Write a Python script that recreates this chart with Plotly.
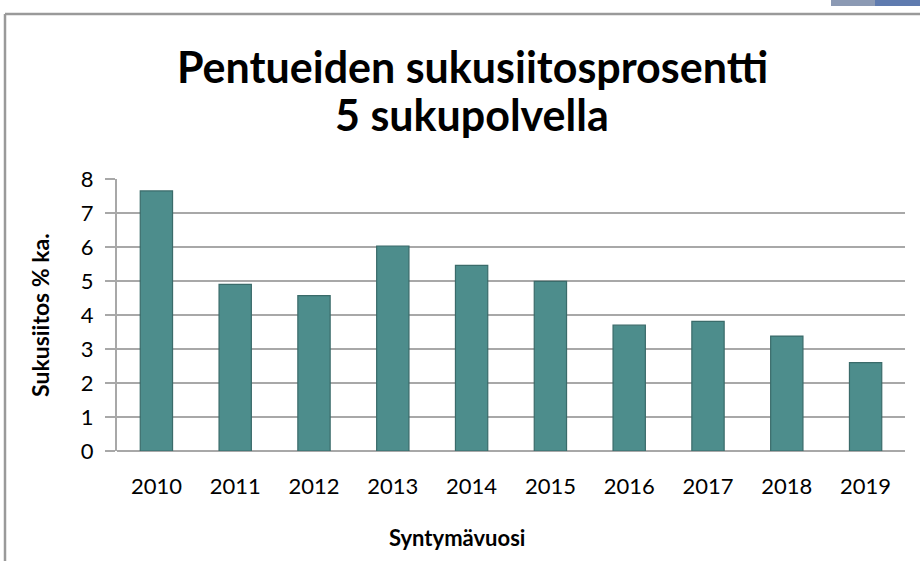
import plotly.graph_objects as go

years = ["2010", "2011", "2012", "2013", "2014", "2015", "2016", "2017", "2018", "2019"]
values = [7.65, 4.90, 4.57, 6.03, 5.46, 4.99, 3.70, 3.81, 3.38, 2.60]
y_ticks = [0, 1, 2, 3, 4, 5, 6, 7, 8]

title_line1 = "Pentueiden sukusiitosprosentti"
title_line2 = "5 sukupolvella"
y_title = "Sukusiitos % ka."
x_title = "Syntymävuosi"

W, H = 920, 561
L, R, T, B = 117, 905, 179, 451  # plot area pixels

def px(x):
    return (x - L) / (R - L)

def py(y):
    return (B - y) / (B - T)

FONT = "Lato"

fig = go.Figure()
fig.add_trace(go.Bar(
    x=years, y=values,
    marker=dict(color="#4D8D8C", line=dict(color="#3A6B6A", width=1.2)),
    width=0.41,
))

shapes = [
    dict(type="line", xref="paper", yref="paper", x0=px(5), x1=px(925), y0=py(14), y1=py(14),
         line=dict(color="#9A9A9A", width=2.5)),
    dict(type="line", xref="paper", yref="paper", x0=px(5), x1=px(5), y0=py(14), y1=py(565),
         line=dict(color="#9A9A9A", width=2.5)),
    dict(type="rect", xref="paper", yref="paper", x0=px(831), x1=px(875), y0=py(-1), y1=py(6),
         fillcolor="#8C9AB4", line=dict(width=0)),
    dict(type="rect", xref="paper", yref="paper", x0=px(875), x1=px(921), y0=py(-1), y1=py(6),
         fillcolor="#5F7BAF", line=dict(width=0)),
]

fig.update_layout(
    width=W, height=H,
    margin=dict(l=L, r=W - R, t=T, b=H - B),
    paper_bgcolor="white", plot_bgcolor="white",
    showlegend=False,
    shapes=shapes,
    font=dict(family=FONT, color="black"),
    bargap=0.59,
)
fig.update_xaxes(
    type="category", showgrid=False, ticks="", showline=False,
    tickfont=dict(size=22, family=FONT, color="black"),
    ticklabelstandoff=20,
)
fig.update_yaxes(
    range=[0, 8], tickvals=y_ticks, showgrid=True, gridcolor="#A8A8A8", gridwidth=2,
    zeroline=True, zerolinecolor="#A8A8A8", zerolinewidth=2,
    showline=True, linecolor="#A8A8A8", linewidth=2,
    ticks="outside", ticklen=10, tickcolor="#A8A8A8", tickwidth=2,
    tickfont=dict(size=22, family=FONT, color="black"),
    ticklabelstandoff=7,
)
title_font = dict(family=FONT, size=43, color="black", weight="bold")
fig.add_annotation(text=title_line1, xref="paper", yref="paper", x=px(472), y=py(94),
                   xanchor="center", yanchor="bottom", showarrow=False, font=title_font)
fig.add_annotation(text=title_line2, xref="paper", yref="paper", x=px(472), y=py(142),
                   xanchor="center", yanchor="bottom", showarrow=False, font=title_font)
fig.add_annotation(text=y_title, xref="paper", yref="paper", x=px(40), y=py(315),
                   xanchor="center", yanchor="middle", showarrow=False, textangle=-90,
                   font=dict(family=FONT, size=23, color="black", weight="bold"))
fig.add_annotation(text=x_title, xref="paper", yref="paper", x=px(457), y=py(537),
                   xanchor="center", yanchor="middle", showarrow=False,
                   font=dict(family=FONT, size=22, color="black", weight="bold"))

fig.write_html("out.html", config={"displayModeBar": False},
               post_script="document.body.style.margin='0';")
